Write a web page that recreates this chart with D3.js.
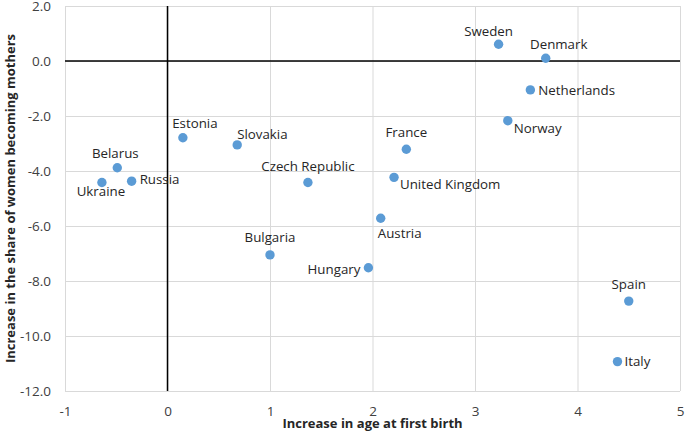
<!DOCTYPE html>
<html>
<head>
<meta charset="utf-8">
<script src="https://cdn.jsdelivr.net/npm/d3@7"></script>
<style>
  body { margin: 0; background: #fff; }
  svg { font-family: "Open Sans", sans-serif; }
</style>
</head>
<body>
<div id="chart"></div>
<script>
// countries and their values (x = increase in age at first birth, y = increase in share becoming mothers)
var countries = ["Sweden", "Denmark", "Netherlands", "Norway", "Estonia", "Slovakia", "France",
  "Czech Republic", "United Kingdom", "Austria", "Bulgaria", "Hungary", "Belarus", "Russia",
  "Ukraine", "Spain", "Italy"];
var ageIncrease = [3.23, 3.69, 3.54, 3.32, 0.15, 0.68, 2.33, 1.37, 2.21, 2.08, 1.00, 1.96,
  -0.49, -0.35, -0.64, 4.50, 4.39];
var shareIncrease = [0.61, 0.10, -1.05, -2.17, -2.79, -3.05, -3.21, -4.42, -4.23, -5.72, -7.05,
  -7.52, -3.88, -4.37, -4.42, -8.73, -10.93];

var xTicks = [-1, 0, 1, 2, 3, 4, 5];
var yTicks = [2, 0, -2, -4, -6, -8, -10, -12];

// label placement: [anchor, dx, dy] in px from the point
var labelPlace = {
  "Sweden": ["middle", -10, -8],
  "Denmark": ["middle", 13, -9],
  "Netherlands": ["start", 8, 5],
  "Norway": ["start", 6, 12],
  "Estonia": ["middle", 12, -10],
  "Slovakia": ["start", 0, -6],
  "France": ["middle", 0, -12.5],
  "Czech Republic": ["middle", 0, -12],
  "United Kingdom": ["start", 6, 12],
  "Austria": ["middle", 19, 19.5],
  "Bulgaria": ["middle", 0, -13],
  "Hungary": ["end", -8, 6],
  "Belarus": ["middle", -2, -9.5],
  "Russia": ["start", 8, 3],
  "Ukraine": ["middle", -1, 13],
  "Spain": ["middle", 0, -12.5],
  "Italy": ["start", 7, 4]
};

var W = 685, H = 443;
var margin = {top: 6, right: 5, bottom: 52, left: 65},
    width = W - margin.left - margin.right,
    height = H - margin.top - margin.bottom;

var x = d3.scaleLinear().domain([-1, 5]).range([0, width]);
var y = d3.scaleLinear().domain([-12, 2]).range([height, 0]);

var svg = d3.select("#chart").append("svg")
    .attr("width", W)
    .attr("height", H)
  .append("g")
    .attr("transform", "translate(" + margin.left + "," + margin.top + ")");

// gridlines + tick labels
var xAxis = d3.axisBottom(x).tickValues(xTicks).tickSize(-height).tickPadding(15)
    .tickFormat(function(d) { return String(d); });
var yAxis = d3.axisLeft(y).tickValues(yTicks).tickSize(-width).tickPadding(14)
    .tickFormat(function(d) { return d.toFixed(1); });

var gx = svg.append("g").attr("transform", "translate(0," + height + ")").call(xAxis);
var gy = svg.append("g").call(yAxis);

[gx, gy].forEach(function(g) {
  g.select(".domain").remove();
  g.selectAll(".tick line").attr("stroke", "#d9d9d9").attr("stroke-width", 1);
  g.selectAll(".tick text").attr("fill", "#404040").style("font-size", "13.5px")
    .style("font-family", "'Open Sans', sans-serif");
});

// zero lines
svg.append("line")
    .attr("x1", x(0)).attr("x2", x(0)).attr("y1", 0).attr("y2", height)
    .attr("stroke", "#000").attr("stroke-width", 1.5);
svg.append("line")
    .attr("x1", 0).attr("x2", width).attr("y1", y(0)).attr("y2", y(0))
    .attr("stroke", "#000").attr("stroke-width", 1.5);

var data = countries.map(function(c, i) {
  return {name: c, ax: ageIncrease[i], sh: shareIncrease[i]};
});

svg.selectAll(".dot").data(data).enter().append("circle")
    .attr("class", "dot")
    .attr("cx", function(d) { return x(d.ax); })
    .attr("cy", function(d) { return y(d.sh); })
    .attr("r", 4.7)
    .attr("fill", "#5b9bd5");

svg.selectAll(".lbl").data(data).enter().append("text")
    .attr("class", "lbl")
    .attr("x", function(d) { return x(d.ax) + labelPlace[d.name][1]; })
    .attr("y", function(d) { return y(d.sh) + labelPlace[d.name][2]; })
    .attr("text-anchor", function(d) { return labelPlace[d.name][0]; })
    .attr("fill", "#262626")
    .style("font-size", "13.3px")
    .text(function(d) { return d.name; });

// axis titles
svg.append("text")
    .attr("x", width / 2)
    .attr("y", height + 37)
    .attr("text-anchor", "middle")
    .attr("fill", "#262626")
    .style("font-size", "13px")
    .style("font-weight", "bold")
    .text("Increase in age at first birth");

svg.append("text")
    .attr("transform", "translate(" + (-margin.left + 15) + "," + (height / 2) + ") rotate(-90)")
    .attr("text-anchor", "middle")
    .attr("fill", "#262626")
    .style("font-size", "13px")
    .style("font-weight", "bold")
    .text("Increase in the share of women becoming mothers");
</script>
</body>
</html>
